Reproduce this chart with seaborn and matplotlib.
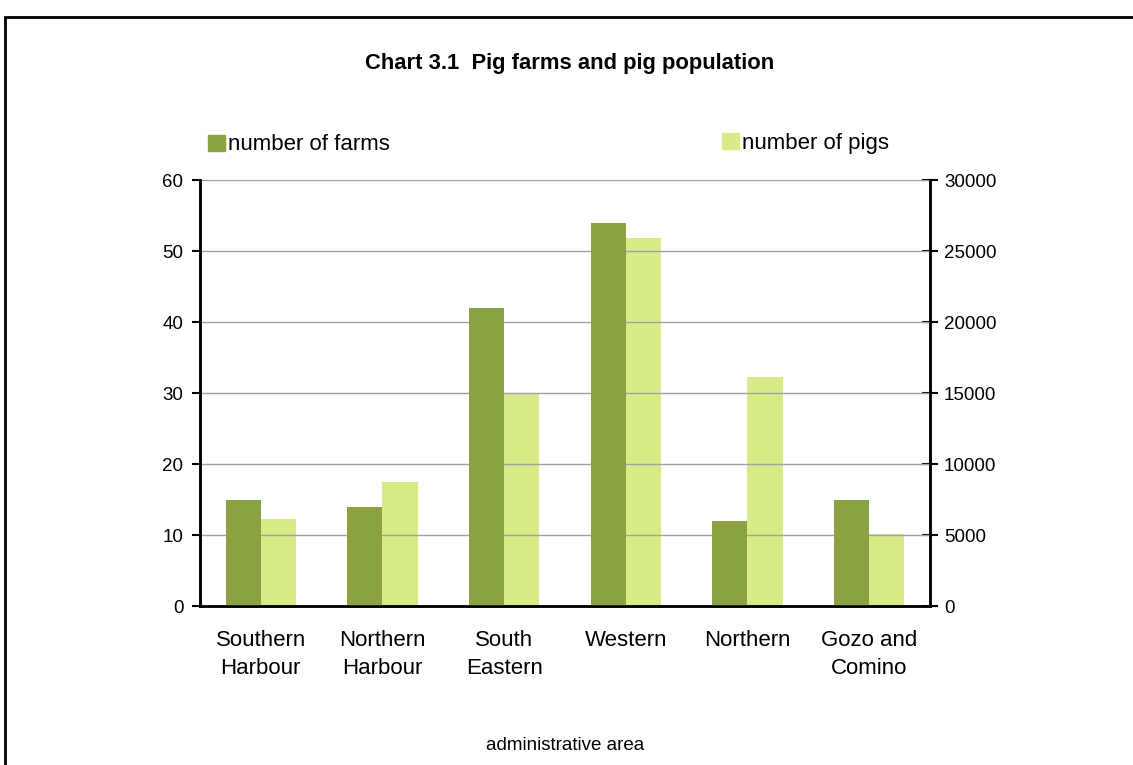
import pandas as pd
import matplotlib.pyplot as plt
import seaborn as sns
from matplotlib.patches import Rectangle

areas = ["Southern\nHarbour", "Northern\nHarbour", "South\nEastern", "Western", "Northern", "Gozo and\nComino"]
farms = [15, 14, 42, 54, 12, 15]
pigs = [6100, 8700, 14900, 25900, 16100, 5060]
series = ["number of farms", "number of pigs"]
colors = ["#8BA242", "#D7EB86"]

sns.set_style("white")
plt.rcParams['font.family'] = ['Liberation Sans', 'DejaVu Sans']
plt.rcParams['text.color'] = 'black'
plt.rcParams['xtick.color'] = 'black'
plt.rcParams['ytick.color'] = 'black'

# long tables, the other series set to 0 so bars dodge side by side
df_farms = pd.DataFrame({"area": areas * 2,
                         "series": [series[0]] * 6 + [series[1]] * 6,
                         "value": farms + [0] * 6})
df_pigs = pd.DataFrame({"area": areas * 2,
                        "series": [series[0]] * 6 + [series[1]] * 6,
                        "value": [0] * 6 + pigs})

fig = plt.figure(figsize=(11.33, 7.65), dpi=100)
ax = fig.add_axes([0.1765, 0.2078, 0.6443, 0.5569])
ax2 = ax.twinx()

sns.barplot(data=df_farms, x="area", y="value", hue="series", palette=colors,
            width=0.58, dodge=True, ax=ax, legend=False, linewidth=0, saturation=1)
sns.barplot(data=df_pigs, x="area", y="value", hue="series", palette=colors,
            width=0.58, dodge=True, ax=ax2, legend=False, linewidth=0, saturation=1)

ax.set_xlim(-0.5, 5.5)
ax.set_ylim(0, 60)
ax2.set_ylim(0, 30000)
ax.set_yticks(range(0, 61, 10))
ax2.set_yticks(range(0, 30001, 5000))
ax.yaxis.grid(True, color="#A0A0A0", linewidth=1)
ax.set_axisbelow(True)
ax.set_zorder(ax2.get_zorder() + 1)
ax.patch.set_visible(False)

ax.set_xticks(range(6))
ax.set_xticklabels(areas, fontsize=16, linespacing=1.45)
ax.set_xticks([i - 0.5 for i in range(7)], minor=True)
ax.tick_params(axis="x", which="major", length=0, pad=17)
ax.tick_params(axis="x", which="minor", length=6, width=1.5, direction="out", color="black")
ax.tick_params(axis="y", labelsize=13.5, length=6, width=1.5, direction="out", color="black", pad=6)
ax2.tick_params(axis="y", labelsize=13.5, length=12, width=1.5, direction="inout", color="black", pad=4)
ax.set_xlabel("")
ax.set_ylabel("")
ax2.set_ylabel("")

for a in (ax, ax2):
    a.spines["top"].set_visible(False)
    for s in ["left", "right", "bottom"]:
        a.spines[s].set_color("black")
        a.spines[s].set_linewidth(1.8)

fig.text(570 / 1133, 1 - 63 / 765, "Chart 3.1  Pig farms and pig population",
         ha="center", va="center", fontsize=15.8, fontweight="bold")
fig.text(565 / 1133, 1 - 745 / 765, "administrative area", ha="center", va="center", fontsize=13.5)

h1 = [Rectangle((0, 0), 1, 1, color=colors[0])]
h2 = [Rectangle((0, 0), 1, 1, color=colors[1])]
leg1 = fig.legend(h1, [series[0]], loc="center left", bbox_to_anchor=(208 / 1133, 1 - 145 / 765),
                  frameon=False, fontsize=16, handlelength=0.75, handleheight=0.75, handletextpad=0.15,
                  borderaxespad=0, borderpad=0)
leg2 = fig.legend(h2, [series[1]], loc="center left", bbox_to_anchor=(722 / 1133, 1 - 143 / 765),
                  frameon=False, fontsize=16, handlelength=0.75, handleheight=0.75, handletextpad=0.15,
                  borderaxespad=0, borderpad=0)

# outer frame, cut off at right and bottom like the source
fig.patches.append(Rectangle((5 / 1133, -0.1), 1.2, 1.1 - 17 / 765, transform=fig.transFigure,
                             fill=False, edgecolor="black", linewidth=2, figure=fig))

fig.savefig("out.png", dpi=100)
